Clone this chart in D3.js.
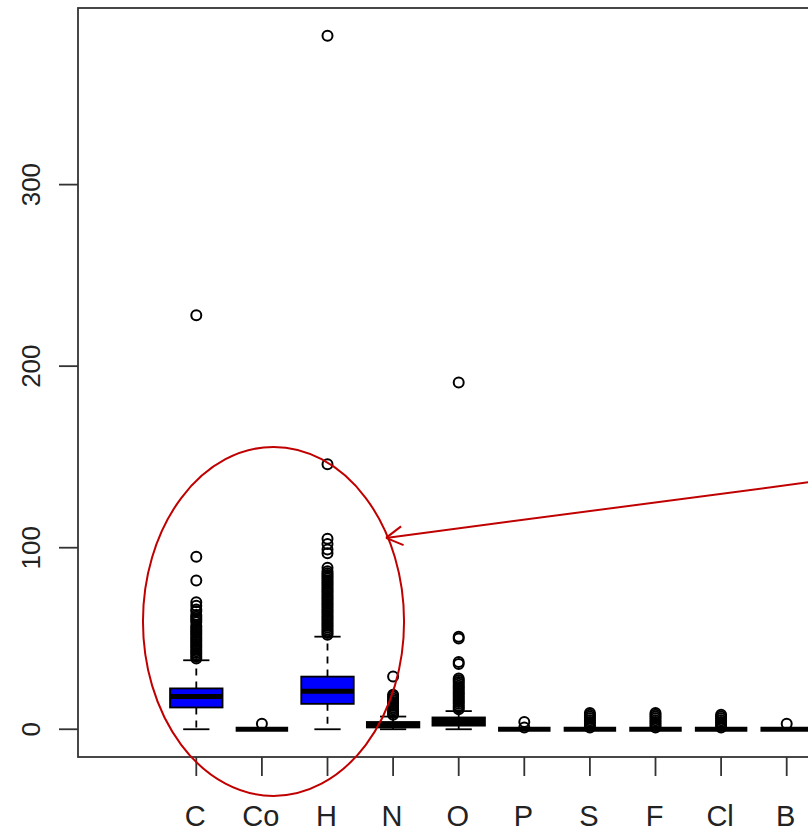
<!DOCTYPE html>
<html>
<head>
<meta charset="utf-8">
<script src="https://cdn.jsdelivr.net/npm/d3@7/dist/d3.min.js"></script>
<style>
html,body{margin:0;padding:0;background:#fff;}
svg{display:block;}
</style>
</head>
<body>
<svg id="chart" width="808" height="832"></svg>
<script>
// ---------- DATA ----------
const categories   = ["C","Co","H","N","O","P","S","F","Cl","B"];
const whiskerLow   = [0, 0, 0, 0, 0, 0, 0, 0, 0, 0];
const q1           = [12, 0, 14, 1, 2, 0, 0, 0, 0, 0];
const medians      = [18, 0, 21, 2.5, 4, 0, 0, 0, 0, 0];
const q3           = [22.5, 0, 29, 4, 6.5, 0, 0, 0, 0, 0];
const whiskerHigh  = [38, 0, 51, 7, 10, 0, 0, 0, 0, 0];

const outliersC  = [39,40,41,42,43,44,45,46,47,48,49,50,51,52,53,54,55,56,57,59,60,61,62,63,65,66,68,70,82,95,228];
const outliersCo = [3];
const outliersH  = [52,53,54,55,56,57,58,59,60,61,62,63,64,65,66,67,68,69,70,71,72,73,74,75,76,77,78,79,80,81,82,83,84,85,86,87,89,97,99,102,105,146,382];
const outliersN  = [8,9,10,11,12,13,14,15,16,17,18,19,29];
const outliersO  = [11,12,13,14,15,16,17,18,19,20,21,22,23,24,25,26,27,28,36,37,50,51,191];
const outliersP  = [1,4];
const outliersS  = [1,2,3,4,5,6,7,8,9];
const outliersF  = [1,2,3,4,5,6,7,8,9];
const outliersCl = [1,2,3,4,5,6,7,8];
const outliersB  = [3];
const outliers = [outliersC,outliersCo,outliersH,outliersN,outliersO,outliersP,outliersS,outliersF,outliersCl,outliersB];

const yTicks = [0,100,200,300];

// annotation (in data units: category index, value)
const ellipseCenter = [1.177, 59.4];
const ellipseRadii  = [1.99, 96.1];
const arrowTip  = [2.892, 105.4];
const arrowTail = [9.66, 137.6];

// ---------- STYLE ----------
const boxFill = ["#0000ff","#000000","#0000ff","#000000","#000000","#000000","#000000","#000000","#000000","#000000"];
const annotColor = "#c00000";

// ---------- LAYOUT ----------
const plot = {left:78, top:8, bottom:757, right:830};
const svg = d3.select("#chart");

const allVals = outliers.flat().concat(whiskerLow, whiskerHigh);
const yMin = d3.min(allVals), yMax = d3.max(allVals);
const pad = (yMax - yMin) * 0.04;
const y = d3.scaleLinear().domain([yMin - pad, yMax + pad]).range([plot.bottom, plot.top]);
const x = d3.scaleLinear().domain([0, categories.length - 1]).range([196.3, 786.7]);
const step = x(1) - x(0);
const bw = step * 0.8;

const g = svg.append("g");
const lw = 1.8;

// boxes
categories.forEach((c,i)=>{
  const cx = x(i);
  const bg = g.append("g");
  // whiskers (dashed)
  bg.append("line").attr("x1",cx).attr("x2",cx).attr("y1",y(q3[i])).attr("y2",y(whiskerHigh[i]))
    .attr("stroke","#000").attr("stroke-width",lw).attr("stroke-dasharray","7,6");
  bg.append("line").attr("x1",cx).attr("x2",cx).attr("y1",y(q1[i])).attr("y2",y(whiskerLow[i]))
    .attr("stroke","#000").attr("stroke-width",lw).attr("stroke-dasharray","7,6");
  // caps
  [whiskerHigh[i], whiskerLow[i]].forEach(v=>{
    bg.append("line").attr("x1",cx-bw/4).attr("x2",cx+bw/4).attr("y1",y(v)).attr("y2",y(v))
      .attr("stroke","#000").attr("stroke-width",lw);
  });
  // box
  bg.append("rect").attr("x",cx-bw/2).attr("y",y(q3[i])).attr("width",bw)
    .attr("height",Math.max(0,y(q1[i])-y(q3[i])))
    .attr("fill",boxFill[i]).attr("stroke","#000").attr("stroke-width",lw);
  // median
  bg.append("line").attr("x1",cx-bw/2).attr("x2",cx+bw/2).attr("y1",y(medians[i])).attr("y2",y(medians[i]))
    .attr("stroke","#000").attr("stroke-width",5);
  // outliers
  bg.selectAll("circle").data(outliers[i]).enter().append("circle")
    .attr("cx",cx).attr("cy",d=>y(d)).attr("r",5)
    .attr("fill","none").attr("stroke","#000").attr("stroke-width",2);
});

// plot border
svg.append("rect").attr("x",plot.left).attr("y",plot.top)
  .attr("width",plot.right-plot.left).attr("height",plot.bottom-plot.top)
  .attr("fill","none").attr("stroke","#333").attr("stroke-width",1.8);

// y axis ticks & labels
const yAxis = svg.append("g");
yTicks.forEach(t=>{
  yAxis.append("line").attr("x1",plot.left-19).attr("x2",plot.left).attr("y1",y(t)).attr("y2",y(t))
    .attr("stroke","#333").attr("stroke-width",1.8);
  yAxis.append("text").attr("transform",`translate(40,${y(t)}) rotate(-90)`)
    .attr("text-anchor","middle").attr("font-family","'Liberation Sans', Arial, sans-serif")
    .attr("font-size",26).attr("fill","#222").text(t);
});

// x axis ticks & labels
const xAxis = svg.append("g");
categories.forEach((c,i)=>{
  xAxis.append("line").attr("x1",x(i)).attr("x2",x(i)).attr("y1",plot.bottom).attr("y2",plot.bottom+19)
    .attr("stroke","#333").attr("stroke-width",1.8);
  xAxis.append("text").attr("x",x(i) - 1).attr("y",826)
    .attr("text-anchor","middle").attr("font-family","'Liberation Sans', Arial, sans-serif")
    .attr("font-size",29).attr("fill","#222").text(c);
});

// annotation: ellipse + arrow
const ann = svg.append("g").attr("fill","none").attr("stroke",annotColor).attr("stroke-width",2);
ann.append("ellipse")
  .attr("cx",x(ellipseCenter[0])).attr("cy",y(ellipseCenter[1]))
  .attr("rx",x(ellipseRadii[0])-x(0)).attr("ry",y(0)-y(ellipseRadii[1]));
const tx = x(arrowTip[0]), ty = y(arrowTip[1]);
const sx = x(arrowTail[0]), sy = y(arrowTail[1]);
ann.append("line").attr("x1",sx).attr("y1",sy).attr("x2",tx).attr("y2",ty);
const ang = Math.atan2(sy-ty, sx-tx);
const hl = 19, ha = Math.PI/6;
[ang-ha, ang+ha].forEach(a=>{
  ann.append("line").attr("x1",tx).attr("y1",ty)
    .attr("x2",tx+hl*Math.cos(a)).attr("y2",ty+hl*Math.sin(a));
});
</script>
</body>
</html>
